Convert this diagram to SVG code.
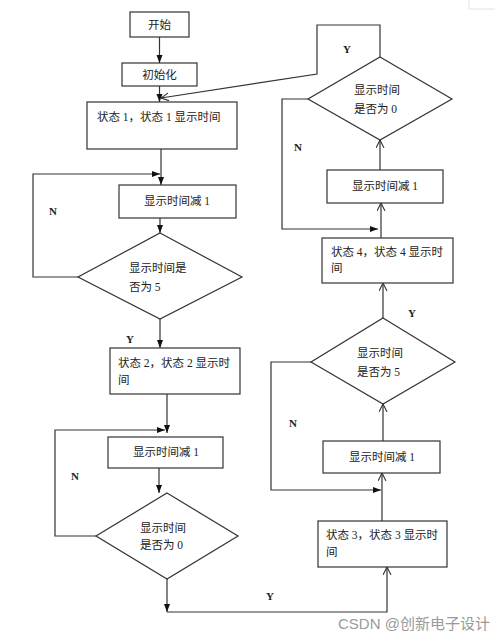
<svg xmlns="http://www.w3.org/2000/svg" width="500" height="636" viewBox="0 0 500 636">
<style>
.box{fill:#fff;stroke:#333;stroke-width:1.2}
.ln{fill:none;stroke:#333;stroke-width:1.2}
.t{font-family:"Liberation Serif","Noto Sans CJK SC",serif;font-size:11.5px;fill:#222}
.c{text-anchor:middle}
.yn{font-family:"Liberation Serif",serif;font-size:11px;font-weight:bold;fill:#222}
.wm{font-family:"Liberation Sans","Noto Sans CJK SC",sans-serif;font-size:15px;fill:#9a9a9a}
</style>
<defs>
<marker id="f" markerUnits="userSpaceOnUse" markerWidth="9" markerHeight="7" refX="8" refY="3" orient="auto"><path d="M0,0 L8,3 L0,6 z" fill="#111"/></marker>
<marker id="o" markerUnits="userSpaceOnUse" markerWidth="10" markerHeight="9" refX="8" refY="4" orient="auto"><path d="M0,0 L8,4 L0,8" fill="none" stroke="#333" stroke-width="1.1"/></marker>
</defs>
<rect width="500" height="636" fill="#fff"/>
<path d="M469,0 V9 H495" fill="none" stroke="#e2e2e2" stroke-width="1"/>
<g id="connectors">
<path class="ln" d="M159.5,37 V63" marker-end="url(#f)"/>
<path class="ln" d="M159.5,86 V102" marker-end="url(#f)"/>
<path class="ln" d="M380,57 V25 H317 V74 L161,98" marker-end="url(#o)"/>
<path class="ln" d="M161,149 V185" marker-end="url(#f)"/>
<path class="ln" d="M78,277 H33 V174 H160" marker-end="url(#f)"/>
<path class="ln" d="M160,218 V233" marker-end="url(#f)"/>
<path class="ln" d="M160,319 V348" marker-end="url(#f)"/>
<path class="ln" d="M167,394 V433" marker-end="url(#f)"/>
<path class="ln" d="M96,536 H55 V430 H165" marker-end="url(#f)"/>
<path class="ln" d="M159,468 V493" marker-end="url(#f)"/>
<path class="ln" d="M167,579 V612" marker-end="url(#f)"/>
<path class="ln" d="M167,612 H387 V567" marker-end="url(#o)"/>
<path class="ln" d="M382,521 V473" marker-end="url(#o)"/>
<path class="ln" d="M311,362 H271 V490 H381" marker-end="url(#f)"/>
<path class="ln" d="M383,441 V404" marker-end="url(#o)"/>
<path class="ln" d="M383,318 V283" marker-end="url(#o)"/>
<path class="ln" d="M381,238 V203" marker-end="url(#o)"/>
<path class="ln" d="M308,99 H282 V229 H378" marker-end="url(#f)"/>
<path class="ln" d="M380,170 V140" marker-end="url(#o)"/>
<text class="yn" x="49" y="215">N</text>
<text class="yn" x="126" y="343">Y</text>
<text class="yn" x="71" y="480">N</text>
<text class="yn" x="266" y="600">Y</text>
<text class="yn" x="289" y="427">N</text>
<text class="yn" x="408" y="317">Y</text>
<text class="yn" x="294" y="151">N</text>
<text class="yn" x="343" y="53">Y</text>
</g>
<g id="start"><rect class="box" x="130" y="12" width="59" height="25"/><text class="t c" x="159.5" y="29">开始</text></g>
<g id="init"><rect class="box" x="122" y="63" width="75" height="23"/><text class="t c" x="159.5" y="79">初始化</text></g>
<g id="state1"><rect class="box" x="87" y="102" width="150" height="47"/><text class="t" x="97" y="121">状态 1，状态 1 显示时间</text></g>
<g id="dec1"><rect class="box" x="119" y="185" width="117" height="33"/><text class="t c" x="177" y="205">显示时间减 1</text></g>
<g id="check5a"><polygon class="box" points="160,233 242,277 160,319 78,277"/><text class="t" x="129" y="272">显示时间是</text><text class="t" x="129" y="291">否为 5</text></g>
<g id="state2"><rect class="box" x="110" y="348" width="130" height="46"/><text class="t" x="118" y="367">状态 2，状态 2 显示时</text><text class="t" x="118" y="384">间</text></g>
<g id="dec2"><rect class="box" x="108" y="437" width="115" height="31"/><text class="t c" x="166" y="456">显示时间减 1</text></g>
<g id="check0a"><polygon class="box" points="167,493 238,536 167,579 96,536"/><text class="t" x="140" y="532">显示时间</text><text class="t" x="140" y="549">是否为 0</text></g>
<g id="state3"><rect class="box" x="318" y="521" width="129" height="46"/><text class="t" x="326" y="539">状态 3，状态 3 显示时</text><text class="t" x="326" y="556">间</text></g>
<g id="dec3"><rect class="box" x="323" y="441" width="117" height="32"/><text class="t c" x="382" y="461">显示时间减 1</text></g>
<g id="check5b"><polygon class="box" points="383,318 455,362 383,404 311,362"/><text class="t" x="357" y="357">显示时间</text><text class="t" x="357" y="376">是否为 5</text></g>
<g id="state4"><rect class="box" x="322" y="238" width="131" height="45"/><text class="t" x="331" y="256">状态 4，状态 4 显示时</text><text class="t" x="331" y="272">间</text></g>
<g id="dec4"><rect class="box" x="327" y="170" width="116" height="33"/><text class="t c" x="385" y="190">显示时间减 1</text></g>
<g id="check0b"><polygon class="box" points="380,57 452,99 380,140 308,99"/><text class="t" x="354" y="94">显示时间</text><text class="t" x="354" y="113">是否为 0</text></g>
<text class="wm" x="338" y="629">CSDN @创新电子设计</text>
</svg>
